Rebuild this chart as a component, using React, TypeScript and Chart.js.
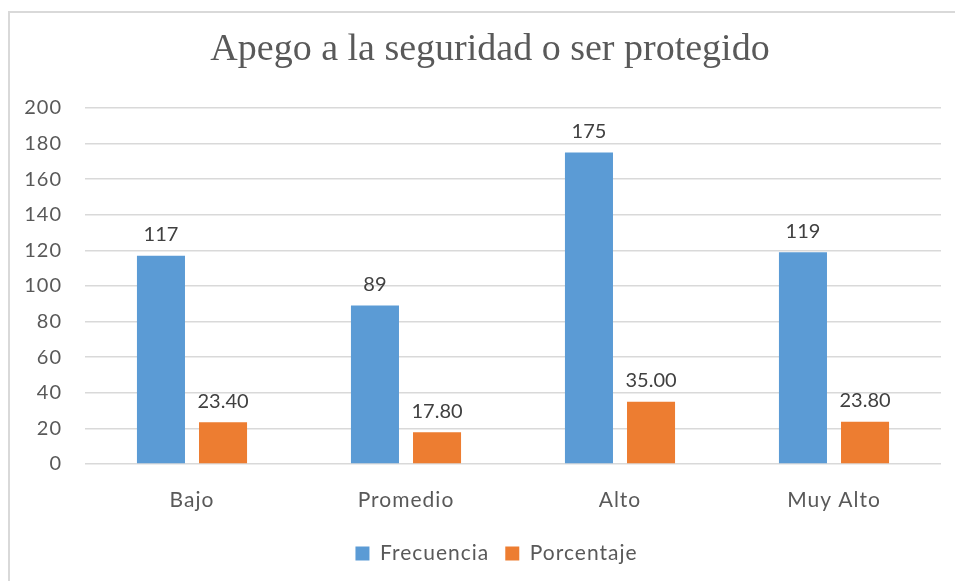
import React, { useEffect, useRef } from "react";
import { Chart, registerables } from "chart.js";

Chart.register(...registerables);

const categories = ["Bajo", "Promedio", "Alto", "Muy Alto"];
const frecuencia = [117, 89, 175, 119];
const porcentaje = [23.4, 17.8, 35.0, 23.8];
const seriesNames = ["Frecuencia", "Porcentaje"];
const title = "Apego a la seguridad o ser protegido";

const FONT = "Lato, 'Liberation Sans', sans-serif";

export default function App() {
  const ref = useRef<HTMLCanvasElement | null>(null);

  useEffect(() => {
    document.body.style.margin = "0";
    const canvas = ref.current!;
    const spacing = {
      id: "spacing",
      beforeInit(chart: any) {
        chart.ctx.letterSpacing = "1px";
      },
      beforeUpdate(chart: any) {
        chart.ctx.letterSpacing = "1px";
      },
      afterLayout(chart: any) {
        const lg = chart.legend;
        if (lg) {
          lg.left += 26;
          lg.right += 26;
          lg.top += 6;
          lg.bottom += 6;
        }
      },
      beforeDraw(chart: any) {
        chart.ctx.letterSpacing = "1px";
      },
    };
    const deco = {
      id: "deco",
      beforeDraw(chart: any) {
        const ctx = chart.ctx;
        ctx.save();
        ctx.fillStyle = "#ffffff";
        ctx.fillRect(0, 0, chart.width, chart.height);
        ctx.strokeStyle = "#d9d9d9";
        ctx.lineWidth = 2;
        ctx.beginPath();
        ctx.moveTo(9, chart.height + 5);
        ctx.lineTo(9, 12);
        ctx.lineTo(chart.width + 5, 12);
        ctx.stroke();
        ctx.restore();
      },
      afterDraw(chart: any) {
        const ctx = chart.ctx;
        ctx.save();
        ctx.letterSpacing = "0px";
        ctx.font = "38px 'Liberation Serif', 'Times New Roman', serif";
        ctx.fillStyle = "#595959";
        ctx.textAlign = "center";
        ctx.textBaseline = "middle";
        ctx.fillText(title, 490, 50);
        ctx.restore();
        // data labels
        ctx.save();
        ctx.letterSpacing = "0px";
        ctx.font = "20px " + FONT;
        ctx.fillStyle = "#404040";
        ctx.textAlign = "center";
        ctx.textBaseline = "bottom";
        chart.data.datasets.forEach((ds: any, di: number) => {
          const meta = chart.getDatasetMeta(di);
          meta.data.forEach((bar: any, i: number) => {
            const v = ds.data[i];
            const txt = di === 0 ? String(v) : v.toFixed(2);
            ctx.fillText(txt, bar.x, bar.y - 11);
          });
        });
        ctx.restore();
      },
    };

    const chart = new Chart(canvas, {
      type: "bar",
      data: {
        labels: categories,
        datasets: [
          {
            label: seriesNames[0],
            data: frecuencia,
            backgroundColor: "#5B9BD5",
            categoryPercentage: 0.58,
            barPercentage: 0.774,
          },
          {
            label: seriesNames[1],
            data: porcentaje,
            backgroundColor: "#ED7D31",
            categoryPercentage: 0.58,
            barPercentage: 0.774,
          },
        ],
      },
      options: {
        animation: false,
        responsive: false,
        maintainAspectRatio: false,
        layout: { padding: { top: 108, right: 14, bottom: 13, left: 0 } },
        scales: {
          x: {
            grid: { display: false },
            border: { display: false },
            ticks: {
              color: "#595959",
              font: { family: FONT, size: 21 },
              padding: 16,
            },
            afterFit(scale: any) {
              scale.height = 57;
            },
          },
          y: {
            min: 0,
            max: 200,
            ticks: {
              stepSize: 20,
              color: "#595959",
              font: { family: FONT, size: 20 },
              padding: 23,
            },
            grid: { color: "#d9d9d9", lineWidth: 1.5, drawTicks: false },
            border: { display: false },
            afterFit(scale: any) {
              scale.width = 85;
            },
          },
        },
        plugins: {
          title: { display: false },
          tooltip: { enabled: false },
          legend: {
            display: true,
            position: "bottom",
            labels: {
              boxWidth: 14,
              boxHeight: 14,
              padding: 16,
              color: "#595959",
              font: { family: FONT, size: 21 },
            },
          },
        },
      },
      plugins: [spacing, deco],
    });
    return () => chart.destroy();
  }, []);

  return (
    <div style={{ width: 955, height: 581 }}>
      <canvas ref={ref} width={955} height={581} style={{ display: "block" }} />
    </div>
  );
}
